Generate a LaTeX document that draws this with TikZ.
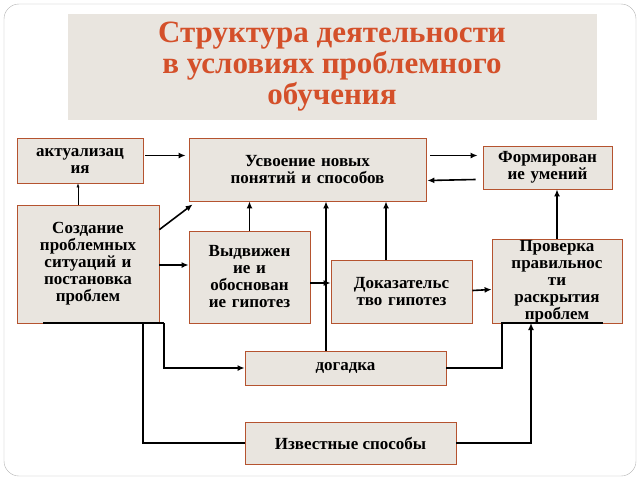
\documentclass[tikz,border=0pt]{standalone}
\usepackage{fontspec}
\setmainfont{Liberation Serif}
\usetikzlibrary{arrows.meta,positioning,calc}
\definecolor{boxfill}{HTML}{E9E5DF}
\definecolor{boxline}{HTML}{B5532F}
\definecolor{titlered}{HTML}{D4502A}
\tikzset{
  blk/.style={draw=boxline, fill=boxfill, thick, align=center, inner sep=1pt,
    font=\bfseries\fontsize{17}{17}\selectfont},
  con/.style={-{Latex[length=7pt,width=6pt]}, line width=1.6pt},
}
\begin{document}
\begin{tikzpicture}[x=1pt,y=-1pt]
    \useasboundingbox (0,0) rectangle (640,480);
    \draw[gray!60, rounded corners=15pt] (4,4) rectangle (636,476);
    \node[fill=boxfill, minimum width=529, minimum height=106, align=center, text=titlered,
      font=\bfseries\fontsize{31}{31}\selectfont] (title) at (332,67)
      {Структура деятельности\\в условиях проблемного\\обучения};
\node[blk, minimum width=126, minimum height=45, text width=122] (akt) at (80,160.5) {актуализац\\ия};
\node[blk, minimum width=237, minimum height=63, text width=230] (usv) at (307.5,169.5) {Усвоение новых\\понятий и способов};
\node[blk, minimum width=129, minimum height=43, text width=125] (form) at (547.5,167.5) {Формирован\\ие умений};
\node[blk, minimum width=142, minimum height=118, text width=138] (sozd) at (88,264) {Создание\\проблемных\\ситуаций и\\постановка\\проблем};
\node[blk, minimum width=121, minimum height=92, text width=117] (vyd) at (249.5,277) {Выдвижен\\ие и\\обоснован\\ие гипотез};
\node[blk, minimum width=141, minimum height=63, text width=137] (dok) at (401.5,291.5) {Доказательс\\тво гипотез};
\node[blk, minimum width=130, minimum height=83, text width=126] (prov) at (557,281.5) {Проверка\\правильнос\\ти\\раскрытия\\проблем};
\node[blk, minimum width=201, minimum height=34] (dog) at (345.5,368) {догадка};
\node[blk, minimum width=211, minimum height=42] (izv) at (350.5,443) {Известные способы};
% upper connectors
\draw[-{Latex[length=4pt,width=3pt]}, thin] (sozd.north -| 78,0) -- (akt.south -| 78,0);
\draw[con] ($(akt.east)+(2,-5)$) -- ($(usv.west)+(-3,-14)$);
\draw[con] ($(usv.east)+(4,-14)$) -- ($(form.west)+(-5,-12)$);
\draw[con] ($(form.west)+(-7,12)$) -- ($(usv.east)+(1,11)$);
\draw[con] ($(sozd.north east)+(0,25)$) -- ($(usv.south west)+(4,3)$);
\draw[con] (sozd.east |- vyd.west) ++(0,-12) -- ($(vyd.west)+(0,-12)$);
\draw[con] (vyd.north) -- (usv.south -| vyd.north);
\draw[con] ($(vyd.east)+(0,6)$) -- ($(dok.west)+(0,-8.5)$);
\draw[con] (dog.north -| 326,0) -- (usv.south -| 326,0);
\draw[con] (dok.north -| 386,0) -- (usv.south -| 386,0);
\draw[con] ($(dok.east)+(0,-1)$) -- ($(prov.west)+(0,8)$);
\draw[con] (prov.north) -- (form.south -| prov.north);
% lower connectors
\draw[line width=1.6pt] (43,323) -- (164,323);
\draw[con] (164,323) |- (dog.west);
\draw[line width=1.6pt] (143,323) |- (izv.west);
\draw[line width=1.6pt] (dog.east) -| (502,323) -- (603,323);
\draw[con] (izv.east) -| (531,323);
\end{tikzpicture}
\end{document}
